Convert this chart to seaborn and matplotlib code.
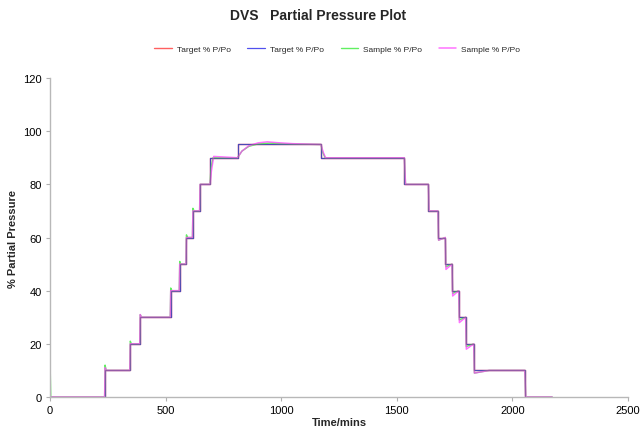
import matplotlib
matplotlib.use("Agg")
import matplotlib.pyplot as plt
import seaborn as sns
import pandas as pd

# ---- data ----
target_time = [0, 238, 347, 390, 522, 561, 590, 618, 649, 692, 811, 1172, 1533,
               1637, 1678, 1710, 1739, 1768, 1798, 1833, 2054, 2172]
target_pp = [0, 10, 20, 30, 40, 50, 60, 70, 80, 90, 95, 90, 80,
             70, 60, 50, 40, 30, 20, 10, 0, 0]

sample1_time = [0, 3, 236, 238, 243, 345, 347, 352, 388, 390, 396, 520, 522, 527,
                559, 561, 566, 588, 590, 595, 616, 618, 623, 647, 649, 655, 692, 696,
                705, 811, 830, 860, 900, 950, 1000, 1100, 1172, 1180, 1190, 1533, 1538,
                1637, 1640, 1678, 1681, 1710, 1713, 1739, 1742, 1768, 1771, 1798, 1801,
                1833, 1836, 1900, 2054, 2058, 2172]
sample1_pp = [13, 0, 0, 12, 10, 10, 21, 20, 20, 31, 30, 30, 41, 40,
              40, 51, 50, 50, 61, 60, 60, 71, 70, 70, 80, 80, 80, 86,
              90, 90, 92.5, 94.3, 95.2, 95.5, 95.3, 95.1, 95, 92, 90, 90, 80,
              80, 70, 70, 59, 60, 49, 50, 39, 40, 29, 30, 19,
              20, 9, 10, 10, 0, 0]

sample2_time = [0, 3, 236, 238, 243, 345, 347, 352, 388, 390, 396, 520, 522, 527,
                559, 561, 566, 588, 590, 595, 616, 618, 623, 647, 649, 655, 692, 698,
                708, 811, 830, 860, 900, 940, 980, 1050, 1172, 1182, 1192, 1533, 1538,
                1637, 1640, 1678, 1681, 1710, 1713, 1739, 1742, 1768, 1771, 1798, 1801,
                1833, 1836, 1900, 2054, 2058, 2172]
sample2_pp = [0, 0, 0, 11, 10, 10, 20, 20, 20, 31, 30, 30, 40, 40,
              40, 50, 50, 50, 60, 60, 60, 70, 70, 70, 80, 80, 80, 85,
              90.5, 90, 92.5, 94.5, 95.6, 96, 95.7, 95.3, 95, 92, 90, 90, 80,
              80, 70, 70, 59, 60, 48, 50, 38, 40, 28, 30, 18,
              20, 9, 10, 10, 0, 0]

labels = ["Target % P/Po", "Target % P/Po", "Sample % P/Po", "Sample % P/Po"]
colors = ["#ff6060", "#5050ee", "#50ee50", "#ff44ff"]

# ---- plot ----
sns.set_theme(style="white")
plt.rcParams['font.family'] = ['Liberation Sans', 'DejaVu Sans']

fig = plt.figure(figsize=(6.42, 4.39), dpi=100)
ax = fig.add_axes([0.078, 0.0934, 0.900, 0.7266])

df_t = pd.DataFrame({"t": target_time, "p": target_pp})
df_s1 = pd.DataFrame({"t": sample1_time, "p": sample1_pp})
df_s2 = pd.DataFrame({"t": sample2_time, "p": sample2_pp})

sns.lineplot(data=df_t, x="t", y="p", ax=ax, color=colors[0], lw=1.0,
             drawstyle="steps-post", label=labels[0], estimator=None, sort=False)
sns.lineplot(data=df_t, x="t", y="p", ax=ax, color=colors[1], lw=0.9,
             drawstyle="steps-post", label=labels[1], estimator=None, sort=False)
sns.lineplot(data=df_s1, x="t", y="p", ax=ax, color=colors[2], lw=1.0, alpha=0.9,
             label=labels[2], estimator=None, sort=False)
sns.lineplot(data=df_s2, x="t", y="p", ax=ax, color=colors[3], lw=1.1, alpha=0.75,
             label=labels[3], estimator=None, sort=False)
# dark thin trace where target lines overlap
ax.plot(target_time, target_pp, drawstyle="steps-post", color="#444466", lw=0.5, alpha=0.6)

ax.set_xlim(0, 2500)
ax.set_ylim(0, 120)
ax.set_xticks([0, 500, 1000, 1500, 2000, 2500])
ax.set_yticks([0, 20, 40, 60, 80, 100, 120])
ax.tick_params(axis="both", labelsize=8, labelcolor="black", length=3, width=0.8,
               direction="out", bottom=True, left=True, color="#b0b0b0", pad=3)

for s in ["top", "right"]:
    ax.spines[s].set_visible(False)
for s in ["left", "bottom"]:
    ax.spines[s].set_color("#b8b8b8")
    ax.spines[s].set_linewidth(1.0)

ax.set_xlabel("Time/mins", fontsize=8, fontweight="bold", labelpad=1)
ax.set_ylabel("% Partial Pressure", fontsize=8, fontweight="bold", labelpad=4)

fig.text(0.495, 0.963, "DVS   Partial Pressure Plot", ha="center", va="center",
         fontsize=10, fontweight="bold")

leg = ax.legend(loc="center", bbox_to_anchor=(0.497, 1.091), ncol=4, frameon=False,
                fontsize=6, handlelength=2.1, columnspacing=2.0, handletextpad=0.6)

fig.savefig("out.png", dpi=100)
